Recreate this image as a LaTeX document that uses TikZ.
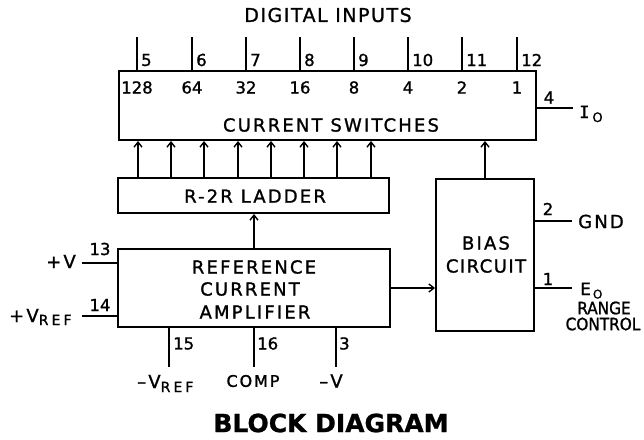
\documentclass[tikz,border=0pt]{standalone}
\usepackage{fontspec}
\setmainfont{DejaVu Sans}[FakeBold=1]
\newfontfamily\ls{DejaVu Sans}[LetterSpace=12,FakeBold=1.2]
\newfontfamily\lsb{DejaVu Sans}[LetterSpace=8,FakeBold=1.2]
\newfontfamily\lss{DejaVu Sans}[LetterSpace=22,FakeBold=1.2]
\newfontfamily\lsc{DejaVu Sans Condensed}[FakeBold=1.2]
\newfontfamily\lsm{DejaVu Sans Mono}[FakeBold=1.2]
\newfontfamily\num{DejaVu Sans}[FakeBold=1.2]
\usetikzlibrary{arrows.meta}
\newcommand{\subtxt}[2]{\raisebox{-#1}{\fontsize{14}{14}\selectfont\lss #2}}
\begin{document}
\begin{tikzpicture}[x=1pt,y=-1pt,
  blk/.style={draw,line width=2.6pt},
  lead/.style={line width=1.6pt},
  arr/.style={line width=1.6pt,-{Straight Barb[length=5pt,width=8pt,line width=1.4pt]}},
  pin/.style={font=\fontsize{16.5}{18}\selectfont\num,inner sep=0pt},
  txt/.style={font=\fontsize{18}{20}\selectfont\ls,inner sep=0pt},
  small/.style={font=\fontsize{16}{18}\selectfont\ls,inner sep=0pt},
  cond/.style={font=\fontsize{17}{18}\selectfont\lsc,inner sep=0pt}]
\useasboundingbox (0,0) rectangle (644,439);
% blocks
\draw[blk] (119,71) rectangle (536,140);
\draw[blk] (118,178) rectangle (389,213);
\draw[blk] (436,179) rectangle (534,331);
\draw[blk] (118,249) rectangle (390,327);
\node[txt] (csl) at (331,125) {CURRENT SWITCHES};
\node[txt] (r2r) at (255,196) {R-2R LADDER};
\node[txt] (bias1) at (486,243) {BIAS};
\node[txt,font=\fontsize{18}{20}\selectfont\lsb] (bias2) at (486,266) {CIRCUIT};
\node[txt] (rca1) at (254,267) {REFERENCE};
\node[txt] (rca2) at (250,289) {CURRENT};
\node[txt] (rca3) at (255,312) {AMPLIFIER};
\node[font=\fontsize{19}{20}\selectfont\lsb,inner sep=0pt] (title) at (328,15) {DIGITAL INPUTS};
\node[font=\fontsize{25}{28}\selectfont\bfseries,inner sep=0pt] (bd) at (331,423) {BLOCK DIAGRAM};
% digital input leads
\foreach \x/\p/\w in {137/5/128,192/6/64,246/7/32,300/8/16,354/9/8,408/10/4,462/11/2,517/12/1}{
  \coordinate (t\p) at (\x,37);
  \coordinate (b\p) at (\x,71);
  \draw[lead] (t\p) -- (b\p);
  \node[pin,anchor=west] (n\p) at (\x+4,60) {\p};
  \node[pin] (w\p) at (\x,87.5) {\w};
}
% ladder arrows
\foreach \x in {138,171,204,238,271,304,337,371}{
  \coordinate (la\x) at (\x,178);
  \coordinate (lb\x) at (\x,141);
  \draw[arr] (la\x) -- (lb\x);
}
% bias to switches
\coordinate (bt) at (485,179);
\coordinate (cb) at (485,141);
\draw[arr] (bt) -- (cb);
% rca to ladder
\coordinate (rt) at (254,249);
\coordinate (lb) at (254,214);
\draw[arr] (rt) -- (lb);
% rca to bias
\coordinate (rr) at (390,288);
\coordinate (bl) at (435,288);
\draw[arr] (rr) -- (bl);
% right side pins
\coordinate (io1) at (536,108); \coordinate (io2) at (573,108);
\draw[lead] (io1) -- (io2);
\node[pin] (n4) at (549,97.5) {4};
\node[inner sep=0pt,anchor=base west] (io) at (579,118) {\fontsize{17}{18}\selectfont\lsm I\hspace{3pt}\raisebox{-4pt}{\fontsize{13}{13}\selectfont\num O}};
\coordinate (g1) at (534,221); \coordinate (g2) at (572,221);
\draw[lead] (g1) -- (g2);
\node[pin] (n2) at (548,209) {2};
\node[txt,anchor=west] (gnd) at (578,221.5) {GND};
\coordinate (e1) at (534,288); \coordinate (e2) at (572,288);
\draw[lead] (e1) -- (e2);
\node[pin] (n1) at (548,279) {1};
\node[inner sep=0pt,anchor=base west] (eo) at (580,295) {\fontsize{17}{18}\selectfont\num E\hspace{2pt}\raisebox{-3.5pt}{\fontsize{12}{12}\selectfont O}};
\node[cond] (rng) at (604,308) {RANGE};
\node[cond] (ctl) at (603,324) {CONTROL};
% left pins
\coordinate (v1) at (82,263); \coordinate (v2) at (118,263);
\draw[lead] (v1) -- (v2);
\node[pin] (n13) at (100,249) {13};
\node[txt,anchor=east] (pv) at (76,261.5) {+V};
\coordinate (vr1) at (82,316); \coordinate (vr2) at (118,316);
\draw[lead] (vr1) -- (vr2);
\node[pin] (n14) at (100,305) {14};
\node[inner sep=0pt,anchor=base west] (pvr) at (9,322) {\fontsize{18}{20}\selectfont\ls +V\subtxt{3pt}{REF}};
% bottom pins
\coordinate (p15a) at (169,327); \coordinate (p15b) at (169,367);
\draw[lead] (p15a) -- (p15b);
\node[pin,anchor=west] (n15) at (173,343.5) {15};
\coordinate (p16a) at (254,327); \coordinate (p16b) at (254,367);
\draw[lead] (p16a) -- (p16b);
\node[pin,anchor=west] (n16) at (257,343.5) {16};
\coordinate (p3a) at (336,327); \coordinate (p3b) at (336,367);
\draw[lead] (p3a) -- (p3b);
\node[pin,anchor=west] (n3) at (339,343.5) {3};
\node[inner sep=0pt,anchor=base west] (mvr) at (137,388) {\fontsize{18}{20}\selectfont\ls –V\subtxt{4pt}{REF}};
\node[small] (comp) at (253,381) {COMP};
\node[txt] (mv) at (331,381) {–V};
\end{tikzpicture}
\end{document}
